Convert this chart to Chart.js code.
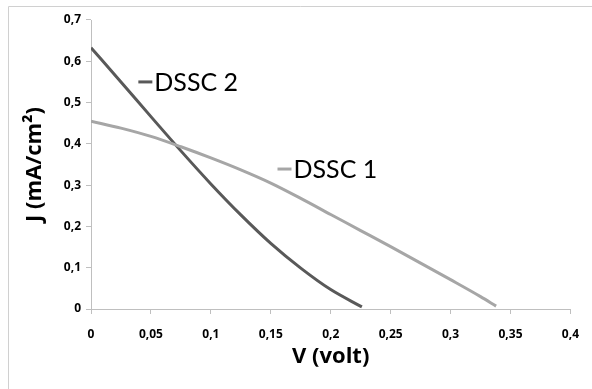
<!DOCTYPE html>
<html>
<head>
<meta charset="utf-8">
<script src="https://cdn.jsdelivr.net/npm/chart.js@4.4.1/dist/chart.umd.min.js"></script>
<style>
  html, body { margin: 0; padding: 0; background: #fff; }
  #wrap { width: 592px; height: 389px; position: relative; }
</style>
</head>
<body>
<div id="wrap"><canvas id="myChart"></canvas></div>
<script>
// V (volt) and J (mA/cm2)
const dssc1V = [0, 0.025, 0.05, 0.075, 0.1, 0.125, 0.15, 0.175, 0.2, 0.225, 0.25, 0.275, 0.3, 0.325, 0.338];
const dssc1J = [0.455, 0.438, 0.418, 0.393, 0.366, 0.337, 0.305, 0.268, 0.229, 0.190, 0.151, 0.111, 0.071, 0.030, 0.007];

const dssc2V = [0, 0.025, 0.05, 0.075, 0.1, 0.125, 0.15, 0.175, 0.2, 0.226];
const dssc2J = [0.633, 0.550, 0.466, 0.383, 0.303, 0.228, 0.159, 0.099, 0.047, 0.005];

const xTickLabels = ['0', '0,05', '0,1', '0,15', '0,2', '0,25', '0,3', '0,35', '0,4'];
const yTickLabels = ['0', '0,1', '0,2', '0,3', '0,4', '0,5', '0,6', '0,7'];

const seriesNames = ['DSSC 1', 'DSSC 2'];
const seriesColors = ['#a6a6a6', '#595959'];

function toPoints(xs, ys) {
    return xs.map((x, i) => ({ x: x, y: ys[i] }));
}

// series name labels, placed in data units like the excel labels
const labelSpots = [
    { name: seriesNames[0], color: seriesColors[0], x: 0.1556, y: 0.339 },
    { name: seriesNames[1], color: seriesColors[1], x: 0.0395, y: 0.550 }
];

const labelPlugin = {
    id: 'seriesLabels',
    afterDatasetsDraw(chart) {
        const ctx = chart.ctx;
        const xs = chart.scales.x, ys = chart.scales.y;
        ctx.save();
        labelSpots.forEach(l => {
            const px = xs.getPixelForValue(l.x);
            const py = ys.getPixelForValue(l.y);
            ctx.strokeStyle = l.color;
            ctx.lineWidth = 3;
            ctx.beginPath();
            ctx.moveTo(px, py);
            ctx.lineTo(px + 14, py);
            ctx.stroke();
            ctx.fillStyle = '#000';
            ctx.font = '25px Lato';
            ctx.textBaseline = 'middle';
            ctx.fillText(l.name, px + 16, py + 1);
        });
        ctx.restore();
    }
};

const framePlugin = {
    id: 'frame',
    afterDraw(chart) {
        const ctx = chart.ctx;
        ctx.save();
        ctx.strokeStyle = '#d0d0d0';
        ctx.lineWidth = 1;
        ctx.beginPath();
        ctx.moveTo(8.5, chart.height);
        ctx.lineTo(8.5, 6.5);
        ctx.lineTo(chart.width, 6.5);
        ctx.stroke();
        ctx.restore();
    }
};

const tickFont = { family: 'Open Sans', size: 12, weight: 'bold' };
const titleFont = { family: 'Open Sans', size: 22, weight: 'bold' };

const ctx = document.getElementById('myChart').getContext('2d');

new Chart(ctx, {
    type: 'scatter',
    data: {
        datasets: [{
            label: seriesNames[0],
            data: toPoints(dssc1V, dssc1J),
            showLine: true,
            borderColor: seriesColors[0],
            borderWidth: 3,
            pointRadius: 0,
            cubicInterpolationMode: 'monotone'
        }, {
            label: seriesNames[1],
            data: toPoints(dssc2V, dssc2J),
            showLine: true,
            borderColor: seriesColors[1],
            borderWidth: 3,
            pointRadius: 0,
            cubicInterpolationMode: 'monotone'
        }]
    },
    options: {
        responsive: true,
        maintainAspectRatio: false,
        animation: false,
        layout: { padding: { top: 20, right: 15, left: 0, bottom: 0 } },
        plugins: {
            legend: { display: false },
            tooltip: { enabled: false }
        },
        scales: {
            x: {
                type: 'linear',
                min: 0,
                max: 0.4,
                afterFit: s => { s.height = 80; },
                afterBuildTicks: s => {
                    s.ticks = xTickLabels.map((t, i) => ({ value: i * 0.05 }));
                },
                ticks: {
                    callback: (v, i) => xTickLabels[i],
                    color: '#000',
                    font: tickFont,
                    padding: 13,
                    maxRotation: 0
                },
                grid: { drawOnChartArea: false, drawTicks: true, tickLength: 5, color: '#bfbfbf' },
                border: { color: '#bfbfbf' },
                title: {
                    display: true,
                    text: 'V (volt)',
                    color: '#000',
                    font: titleFont,
                    padding: { top: 0, bottom: 19 }
                }
            },
            y: {
                min: 0,
                max: 0.7,
                afterFit: s => { s.width = 91; },
                afterBuildTicks: s => {
                    s.ticks = yTickLabels.map((t, i) => ({ value: i * 0.1 }));
                },
                ticks: {
                    callback: (v, i) => yTickLabels[i],
                    color: '#000',
                    font: tickFont,
                    padding: 5
                },
                grid: { drawOnChartArea: false, drawTicks: true, tickLength: 5, color: '#bfbfbf' },
                border: { color: '#bfbfbf' },
                title: {
                    display: true,
                    text: 'J (mA/cm²)',
                    color: '#000',
                    font: titleFont,
                    padding: { top: 22, bottom: 0 }
                }
            }
        }
    },
    plugins: [labelPlugin, framePlugin]
});
</script>
</body>
</html>
